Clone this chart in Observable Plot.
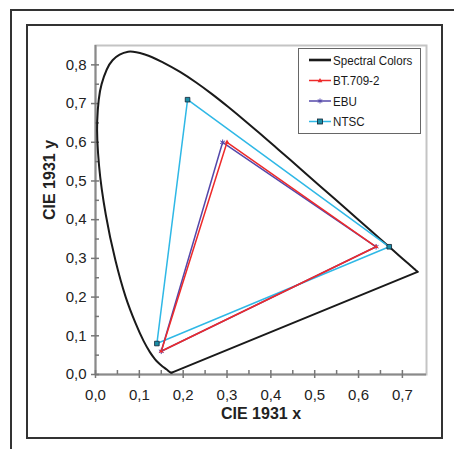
<!DOCTYPE html>
<html><head><meta charset="utf-8">
<script src="https://cdn.jsdelivr.net/npm/d3@7"></script>
<script src="https://cdn.jsdelivr.net/npm/@observablehq/plot@0.6"></script>
<style>
body{margin:0;background:#fff;}
#wrap{position:relative;width:454px;height:449px;overflow:hidden;font-family:"Liberation Sans",Arial,sans-serif;}
#chart{position:absolute;left:0;top:0;}
.outer{position:absolute;left:10px;top:9px;width:470px;height:470px;border-left:2px solid #333;border-top:2px solid #333;box-sizing:border-box;pointer-events:none;}
.inner{position:absolute;left:26px;top:24px;width:417px;height:415px;border:2px solid #333;box-sizing:border-box;pointer-events:none;}
#legend{position:absolute;left:298px;top:48px;width:123px;height:86px;border:1px solid #666;background:#fff;box-sizing:border-box;}
</style>
</head><body>
<div id="wrap"><div id="chart"></div><div class="outer"></div><div class="inner"></div><div id="legend"></div></div>
<script>
// CIE 1931 spectral locus (380–700 nm)
const spectralX = [0.1741,0.1740,0.1738,0.1736,0.1733,0.1730,0.1726,0.1721,0.1714,0.1703,0.1689,0.1669,0.1644,0.1611,0.1566,0.1510,0.1440,0.1355,0.1241,0.1096,0.0913,0.0687,0.0454,0.0235,0.0082,0.0039,0.0139,0.0389,0.0743,0.1142,0.1547,0.1929,0.2296,0.2658,0.3016,0.3373,0.3731,0.4087,0.4441,0.4788,0.5125,0.5448,0.5752,0.6029,0.6270,0.6482,0.6658,0.6801,0.6915,0.7006,0.7079,0.7140,0.7190,0.7230,0.7260,0.7283,0.7300,0.7311,0.7320,0.7327,0.7334,0.7340,0.7344,0.7346,0.7347];
const spectralY = [0.0050,0.0050,0.0049,0.0049,0.0048,0.0048,0.0048,0.0048,0.0051,0.0058,0.0069,0.0086,0.0109,0.0138,0.0177,0.0227,0.0297,0.0399,0.0578,0.0868,0.1327,0.2007,0.2950,0.4127,0.5384,0.6548,0.7502,0.8120,0.8338,0.8262,0.8059,0.7816,0.7543,0.7243,0.6923,0.6589,0.6245,0.5896,0.5547,0.5202,0.4866,0.4544,0.4242,0.3965,0.3725,0.3514,0.3340,0.3197,0.3083,0.2993,0.2920,0.2859,0.2809,0.2770,0.2740,0.2717,0.2700,0.2689,0.2680,0.2673,0.2666,0.2660,0.2656,0.2654,0.2653];

// Primaries R, G, B (closed)
const bt709X = [0.64, 0.30, 0.15, 0.64];
const bt709Y = [0.33, 0.60, 0.06, 0.33];
const ebuX   = [0.64, 0.29, 0.15, 0.64];
const ebuY   = [0.33, 0.60, 0.06, 0.33];
const ntscX  = [0.67, 0.21, 0.14, 0.67];
const ntscY  = [0.33, 0.71, 0.08, 0.33];

const seriesNames  = ["Spectral Colors", "BT.709-2", "EBU", "NTSC"];
const seriesColors = ["#1a1a1a", "#ee2a2a", "#5548aa", "#2fb8e6"];

const xTicks = [0, 0.1, 0.2, 0.3, 0.4, 0.5, 0.6, 0.7];
const xMinor = [0.05, 0.15, 0.25, 0.35, 0.45, 0.55, 0.65];
const yTicks = [0, 0.1, 0.2, 0.3, 0.4, 0.5, 0.6, 0.7, 0.8];
const yMinor = [0.05, 0.15, 0.25, 0.35, 0.45, 0.55, 0.65, 0.75];

const fmt = d => d.toFixed(1).replace(".", ",");
const pts = (xs, ys) => xs.map((x, i) => ({x, y: ys[i]}));
const spectral = pts(spectralX, spectralY);
const purple = [spectral[spectral.length - 1], spectral[0]];
const bt709 = pts(bt709X, bt709Y);
const ebu = pts(ebuX, ebuY);
const ntsc = pts(ntscX, ntscY);

const chart = Plot.plot({
  width: 454, height: 449,
  marginLeft: 95, marginRight: 28, marginTop: 45, marginBottom: 75,
  style: {background: "transparent", fontFamily: "Liberation Sans, Arial, sans-serif", color: "#222"},
  x: {domain: [0, 0.755], axis: null},
  y: {domain: [0, 0.85], axis: null},
  marks: [
    Plot.frame({stroke: "#c4c4c4", strokeWidth: 2}),
    Plot.ruleY([0], {stroke: "#8a8a8a", strokeWidth: 2}),
    Plot.ruleX([0], {stroke: "#8a8a8a", strokeWidth: 2}),
    Plot.ruleX(xTicks, {x: d => d, y1: 0, y2: 0, insetTop: -4, insetBottom: -4, stroke: "#777", strokeWidth: 1.5}),
    Plot.ruleX(xMinor, {x: d => d, y1: 0, y2: 0, insetTop: -4, insetBottom: 0, stroke: "#777", strokeWidth: 1.5}),
    Plot.ruleY(yTicks, {y: d => d, x1: 0, x2: 0, insetLeft: -4, insetRight: -4, stroke: "#777", strokeWidth: 1.5}),
    Plot.ruleY(yMinor, {y: d => d, x1: 0, x2: 0, insetLeft: 0, insetRight: -4, stroke: "#777", strokeWidth: 1.5}),
    Plot.axisX(xTicks, {tickFormat: fmt, tickSize: 0, tickPadding: 15, fontSize: 15, label: null}),
    Plot.axisY(yTicks, {tickFormat: fmt, tickSize: 0, tickPadding: 9, fontSize: 15, label: null}),
    Plot.text(["CIE 1931 x"], {frameAnchor: "bottom", dy: 44, fontWeight: "bold", fontSize: 16, fill: "#222"}),
    Plot.text(["CIE 1931 y"], {frameAnchor: "left", rotate: -90, dx: -46, dy: 10, fontWeight: "bold", fontSize: 16, fill: "#222"}),
    Plot.line(spectral, {x: "x", y: "y", curve: "catmull-rom", stroke: seriesColors[0], strokeWidth: 2}),
    Plot.line(purple, {x: "x", y: "y", stroke: seriesColors[0], strokeWidth: 2}),
    Plot.line(ntsc, {x: "x", y: "y", stroke: seriesColors[3], strokeWidth: 1.5}),
    Plot.line(ebu, {x: "x", y: "y", stroke: seriesColors[2], strokeWidth: 1.5}),
    Plot.line(bt709, {x: "x", y: "y", stroke: seriesColors[1], strokeWidth: 1.5}),
    Plot.dot(ntsc.slice(0, 3), {x: "x", y: "y", symbol: "square", r: 2.6, fill: "#1b8ea6", stroke: "#123", strokeWidth: 0.8}),
    Plot.dot(ebu.slice(0, 3), {x: "x", y: "y", symbol: "asterisk", r: 2.6, stroke: seriesColors[2], strokeWidth: 1}),
    Plot.dot(bt709.slice(0, 3), {x: "x", y: "y", symbol: "triangle", r: 1.7, fill: seriesColors[1], stroke: "none"})
  ]
});
document.getElementById("chart").appendChild(chart);

// Legend
const lg = d3.select("#legend").append("svg").attr("width", 121).attr("height", 84);
const markers = [null, "triangle", "asterisk", "square"];
seriesNames.forEach((name, i) => {
  const cy = 11 + i * 20.5;
  const g = lg.append("g").attr("transform", `translate(0,${cy})`);
  g.append("line").attr("x1", 10).attr("x2", 32).attr("y1", 0).attr("y2", 0)
    .attr("stroke", seriesColors[i]).attr("stroke-width", i === 0 ? 2.6 : 1.5);
  if (markers[i] === "triangle") g.append("path").attr("d", "M21,-2.4L23.4,1.8L18.6,1.8Z").attr("fill", seriesColors[i]);
  if (markers[i] === "asterisk") g.append("path").attr("d", "M21,-2.5V2.5M18.8,-1.3L23.2,1.3M18.8,1.3L23.2,-1.3").attr("stroke", seriesColors[i]).attr("stroke-width", 1);
  if (markers[i] === "square") g.append("rect").attr("x", 18.5).attr("y", -2.5).attr("width", 5).attr("height", 5).attr("fill", "#1b8ea6").attr("stroke", "#123").attr("stroke-width", 0.8);
  g.append("text").attr("transform", "translate(34,0) scale(0.86,1)").attr("dy", "0.36em")
    .attr("font-family", "'Liberation Sans',Arial,sans-serif")
    .attr("font-size", 13.5).attr("fill", "#1a1a1a").text(name);
});
</script>
</body></html>
